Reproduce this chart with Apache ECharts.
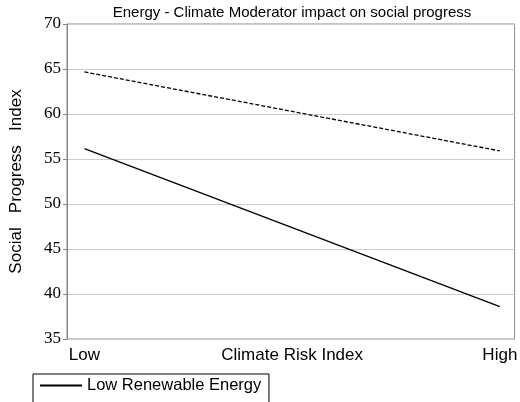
<!DOCTYPE html>
<html><head><meta charset="utf-8">
<script src="https://cdn.jsdelivr.net/npm/echarts@6/dist/echarts.min.js"></script>
<style>html,body{margin:0;background:#fff}#c{width:520px;height:402px}</style>
</head><body><div id="c"></div>
<script>
const xPositions = [0, 1];
const tickLabels = ['Low', 'Climate Risk Index', 'High'];
const tickValues = [0, 0.5, 1];
const lowRenewable = [56.15, 38.6];
const highRenewable = [64.67, 55.9];
const chart = echarts.init(document.getElementById('c'));
chart.setOption({
  animation: false,
  title: {text: 'Energy - Climate Moderator impact on social progress', left: 287, textAlign: 'center', top: 0,
    textStyle: {fontFamily: 'Liberation Sans', fontSize: 15, fontWeight: 'normal', color: '#000'}},
  grid: {left: 57, right: 3, top: 24, bottom: 63, show: true, borderColor: '#888', borderWidth: 1},
  xAxis: {type: 'value', min: -0.042, max: 1.0356,
    axisLine: {show: false}, splitLine: {show: false}, axisTick: {show: false},
    axisLabel: {customValues: tickValues, formatter: v => tickLabels[tickValues.indexOf(v)] ?? '',
      fontFamily: 'Liberation Sans', fontSize: 17, color: '#000', margin: 8}},
  yAxis: {type: 'value', min: 35, max: 70, interval: 5,
    name: 'Social   Progress   Index', nameLocation: 'middle', nameGap: 42, nameRotate: 90,
    nameTextStyle: {fontFamily: 'Liberation Sans', fontSize: 17, color: '#000'},
    axisLine: {show: true, onZero: false, lineStyle: {color: '#888'}},
    axisTick: {show: true, length: 4, lineStyle: {color: '#888'}},
    splitLine: {lineStyle: {color: '#ccc'}},
    axisLabel: {fontFamily: 'Liberation Serif', fontSize: 17, color: '#000', margin: 6}},
  legend: {left: 33, top: 374, width: 470, borderColor: '#000', borderWidth: 1,
    padding: [3, 4, 3, 6], itemGap: 28, itemWidth: 42, itemHeight: 14,
    itemStyle: {opacity: 0},
    textStyle: {fontFamily: 'Liberation Sans', fontSize: 16.5, color: '#000'}},
  series: [
    {name: 'Low Renewable Energy', type: 'line', symbol: 'none', data: xPositions.map((x, i) => [x, lowRenewable[i]]),
      lineStyle: {color: '#000', width: 1.3}, itemStyle: {color: '#000'}},
    {name: 'High Renewable Energy', type: 'line', symbol: 'none', data: xPositions.map((x, i) => [x, highRenewable[i]]),
      lineStyle: {color: '#000', width: 1.3, type: [4, 2]}, itemStyle: {color: '#000'}}
  ]
});
</script></body></html>
